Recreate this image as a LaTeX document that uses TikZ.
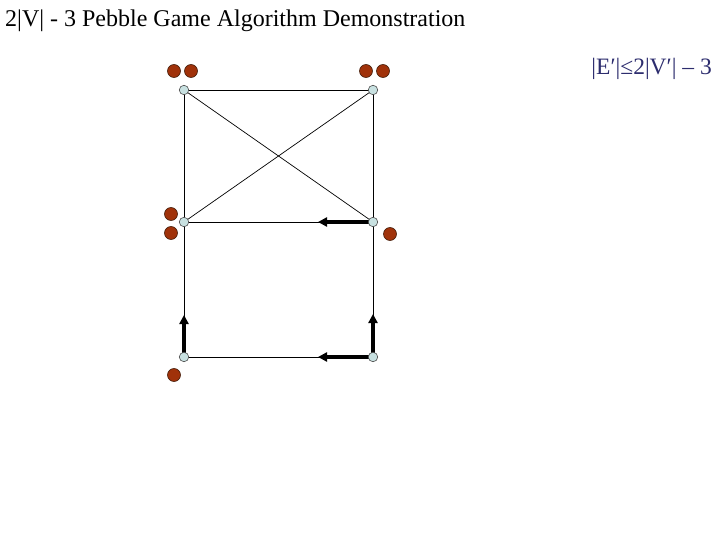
\documentclass[tikz,border=0pt]{standalone}
\usepackage{fontspec}
\setmainfont{Liberation Serif}
\usetikzlibrary{arrows.meta}
\definecolor{pebble}{RGB}{160,50,10}
\definecolor{pebbleline}{RGB}{70,30,10}
\definecolor{vert}{RGB}{200,225,225}
\definecolor{navy}{RGB}{45,45,110}
\tikzset{
  vtx/.style={circle,draw=black!70,fill=vert,line width=0.6pt,minimum size=9.5pt,inner sep=0pt},
  peb/.style={circle,draw=pebbleline,fill=pebble,line width=0.6pt,minimum size=13pt,inner sep=0pt},
  edge/.style={line width=0.7pt,black},
  dir/.style={line width=3.5pt,-{Triangle[length=9pt,width=9pt]},shorten >=0pt},
}
\begin{document}
\begin{tikzpicture}[x=1pt,y=-1pt]
\useasboundingbox (0,0) rectangle (720,540);
\node[anchor=base west,font=\fontsize{24}{28}\selectfont,inner sep=0pt] (title) at (5,27) {2|V| - 3 Pebble Game Algorithm Demonstration};
\node[anchor=base east,font=\fontsize{23.5}{27}\selectfont,text=navy,inner sep=0pt] (cond) at (712,75) {|E′|≤2|V′| – 3};
% edges
\coordinate (a) at (184,90);
\coordinate (b) at (373,90);
\coordinate (c) at (184,222);
\coordinate (d) at (373,222);
\coordinate (e) at (184,357);
\coordinate (f) at (373,357);
\draw[edge] (a) -- (b);
\draw[edge] (a) -- (d);
\draw[edge] (b) -- (c);
\draw[edge] (c) -- (d);
\draw[edge] (a) -- (c);
\draw[edge] (b) -- (d);
\draw[edge] (c) -- (e);
\draw[edge] (d) -- (f);
\draw[edge] (e) -- (f);
% direction arrows
\coordinate (dl) at (318,222);
\coordinate (fl) at (318,357);
\coordinate (eu) at (184,315);
\coordinate (fu) at (373,314);
\draw[dir] (d) -- (dl);
\draw[dir] (f) -- (fl);
\draw[dir] (e) -- (eu);
\draw[dir] (f) -- (fu);
% vertices
\node[vtx] (va) at (a) {};
\node[vtx] (vb) at (b) {};
\node[vtx] (vc) at (c) {};
\node[vtx] (vd) at (d) {};
\node[vtx] (ve) at (e) {};
\node[vtx] (vf) at (f) {};
% pebbles
\node[peb] (p1) at (174,71) {};
\node[peb] (p2) at (191,71) {};
\node[peb] (p3) at (366,71) {};
\node[peb] (p4) at (383,71) {};
\node[peb] (p5) at (171,214) {};
\node[peb] (p6) at (171,233) {};
\node[peb] (p7) at (390,234) {};
\node[peb] (p8) at (174,375) {};
\end{tikzpicture}
\end{document}
